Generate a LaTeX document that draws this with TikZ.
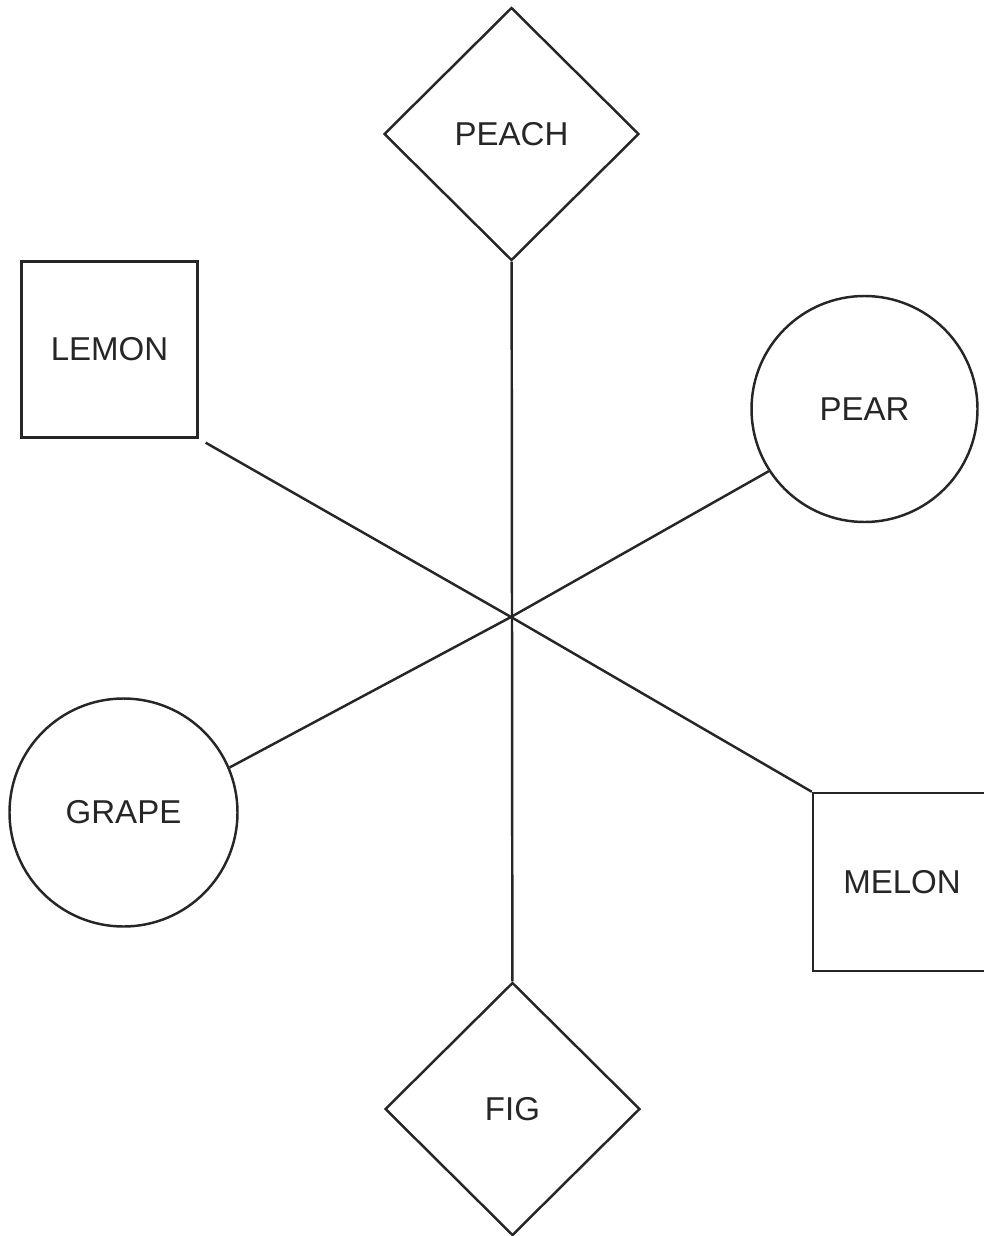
\documentclass[tikz,border=0pt]{standalone}
\usepackage{fontspec}
\setmainfont{Liberation Sans}
\usetikzlibrary{shapes.geometric, positioning, calc}

\begin{document}
\begin{tikzpicture}[
          font=\fontsize{18.8}{22}\selectfont,
          fruitbase/.style={draw=black!85, fill=white, line width=1.4pt, inner sep=0pt, text=black!85},
          diamondnode/.style={fruitbase, diamond, minimum width=5.1cm, minimum height=5.06cm},
          squarenode/.style={fruitbase, rectangle, minimum width=3.54cm, minimum height=3.54cm},
          circlenode/.style={fruitbase, circle, minimum size=4.54cm},
          spoke/.style={draw=black!85, line width=1.4pt}
        ]
        \useasboundingbox (0, 0) rectangle (19.66, -24.72);

        % ----------------------------------------------------
        % NODES
        % ----------------------------------------------------
        \node (peach) at (10.23, -2.68) [diamondnode] {PEACH};
        \node (fig) at (10.25, -22.18) [diamondnode] {FIG};
        \node (lemon) at (2.19, -6.99) [squarenode, minimum width=3.52cm, minimum height=3.52cm] {LEMON};
        \node (melon) at (18.04, -17.64) [squarenode, minimum width=3.56cm, minimum height=3.56cm] {MELON};
        \node (pear) at (17.29, -8.18) [circlenode, minimum size=4.52cm] {PEAR};
        \node (grape) at (2.47, -16.25) [circlenode, minimum size=4.56cm] {GRAPE};

        \coordinate (hub) at (10.22, -12.34);

        % ----------------------------------------------------
        % SPOKES
        % ----------------------------------------------------
        \draw[spoke] (peach) -- (fig);
        \draw[spoke, shorten <=0.16cm] (lemon.south east) -- (hub) -- (melon.north west);
        \draw[spoke] (grape.23) -- (hub) -- (pear.213);
      \end{tikzpicture}
\end{document}
